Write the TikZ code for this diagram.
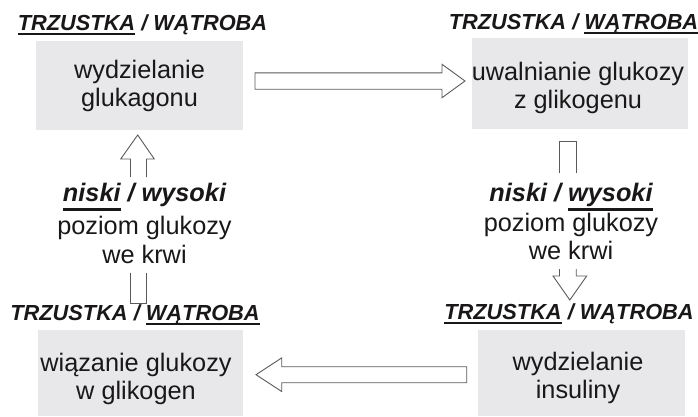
\documentclass[tikz,border=0pt]{standalone}
\usepackage{fontspec}
\setmainfont{Liberation Sans}
\definecolor{boxgray}{RGB}{232,232,234}
\definecolor{ink}{RGB}{25,23,24}
\definecolor{arrowgray}{RGB}{90,90,90}
\newcommand\ulhd[1]{\setbox0=\hbox{#1}\rlap{\rule[-5pt]{\wd0}{2.5pt}}\box0\relax}
\newcommand\ulmid[1]{\setbox0=\hbox{#1}\rlap{\rule[-9.5pt]{\wd0}{2.8pt}}\box0\relax}
\begin{document}
\begin{tikzpicture}[x=1pt,y=-1pt,
  organbox/.style={fill=boxgray, draw=none, inner sep=0pt},
  hdr/.style={anchor=base, inner sep=0pt, text=ink,
    font=\fontsize{21.8}{24}\selectfont\bfseries\itshape},
  body/.style={align=center, inner sep=0pt, text=ink,
    font=\fontsize{25.3}{28.2}\selectfont},
  midtext/.style={align=center, inner sep=0pt, text=ink},
  blockarr/.style={draw=arrowgray, line width=0.9pt, fill=white, line join=miter}]
\useasboundingbox (0,0) rectangle (698,416);

% grey boxes
\node[organbox, minimum width=207pt, minimum height=89pt] (bTL) at (139.5,85.5) {};
\node[organbox, minimum width=216pt, minimum height=91.3pt] (bTR) at (580,83.7) {};
\node[organbox, minimum width=205pt, minimum height=86pt] (bBL) at (140.5,373) {};
\node[organbox, minimum width=207pt, minimum height=86pt] (bBR) at (581.5,373) {};

% box texts
\node[body] (tTL) at (139.5,86.0) {wydzielanie\\glukagonu};
\node[body] (tTR) at (578,87.7) {uwalnianie glukozy\\z glikogenu};
\node[body] (tBL) at (136,378.7) {wiązanie glukozy\\w glikogen};
\node[body] (tBR) at (578,377.7) {wydzielanie\\insuliny};

% headers
\node[hdr] (hTL) at (142.5,30) {\ulhd{TRZUSTKA} / WĄTROBA};
\node[hdr] (hTR) at (573.5,29.3) {TRZUSTKA / \ulhd{WĄTROBA}};
\node[hdr] (hBL) at (135,320) {TRZUSTKA / \ulhd{WĄTROBA}};
\node[hdr] (hBR) at (569,319.3) {\ulhd{TRZUSTKA} / WĄTROBA};

% middle texts
\node[midtext, font=\fontsize{25.3}{29.5}\selectfont] (mL) at (144.5,223.5)
  {{\bfseries\itshape\ulmid{niski} / wysoki}\\[3pt]poziom glukozy\\we krwi};
\node[midtext, font=\fontsize{25.3}{28}\selectfont] (mR) at (571,221.5)
  {{\bfseries\itshape niski / \ulmid{wysoki}}\\[2pt]poziom glukozy\\we krwi};

% arrow end points
\coordinate (aTs) at (255,81);
\coordinate (aTe) at (465,81);
\coordinate (aBs) at (466.7,374.7);
\coordinate (aBe) at (256,374.7);
\coordinate (aLs) at (138.5,303);
\coordinate (aLe) at (137.7,135);
\coordinate (aRs) at (568,141.7);
\coordinate (aRe) at (569.8,300);

% top: left box -> right box
\draw[blockarr] (aTs) ++(0,-8.2) -- ++(187,0) -- ++(0,-8.5) -- (aTe)
  -- ++(-23,16.7) -- ++(0,-8.5) -- ++(-187,0) -- cycle;
% bottom: right box -> left box
\draw[blockarr] (aBs) ++(0,-8) -- ++(-185,0) -- ++(0,-8.8) -- (aBe)
  -- ++(25.7,16.8) -- ++(0,-8.8) -- ++(185,0) -- cycle;
% left column, upward (interrupted by text)
\draw[blockarr, fill=none] (aLs) ++(-8,-30.3) -- ++(0,30.3) -- ++(16,0) -- ++(0,-30.3);
\draw[blockarr, fill=none] (aLe) ++(-7.2,42) -- ++(0,-18) -- ++(-9.8,0) -- (aLe)
  -- ++(16.6,24) -- ++(-7.8,0) -- ++(0,18);
% right column, downward (interrupted by text)
\draw[blockarr, fill=none] (aRs) ++(-8.3,31.3) -- ++(0,-31.3) -- ++(16.6,0) -- ++(0,31.3);
\draw[blockarr, fill=none] (aRe) ++(-10.3,-31) -- ++(0,7) -- ++(-6.5,0) -- (aRe)
  -- ++(16.9,-24) -- ++(-10.5,0) -- ++(0,-7);
\end{tikzpicture}
\end{document}
